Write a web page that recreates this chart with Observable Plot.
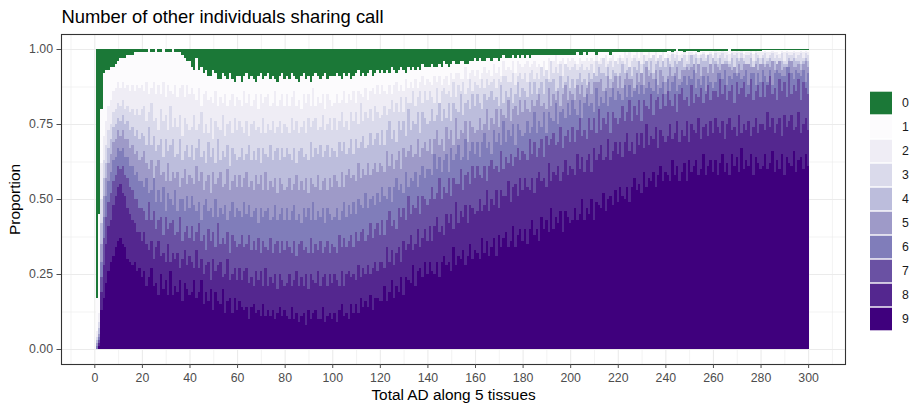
<!DOCTYPE html>
<html>
<head>
<meta charset="utf-8">
<script src="https://cdn.jsdelivr.net/npm/d3@7"></script>
<script src="https://cdn.jsdelivr.net/npm/@observablehq/plot@0.6"></script>
<style>
  body { margin: 0; background: #fff; }
  #chart { position: relative; width: 911px; height: 403px; font-family: "Liberation Sans", Arial, sans-serif; }
  #chart > svg { position: absolute; }
</style>
</head>
<body>
<div id="chart"></div>
<script>
// Number of other individuals sharing a call: categories 0..9
const categories = ["0", "1", "2", "3", "4", "5", "6", "7", "8", "9"];
const palette = ["#1b7837", "#fcfbfd", "#efedf5", "#dadaeb", "#bcbddc", "#9e9ac8", "#807dba", "#6a51a3", "#54278f", "#3f007d"];

// Axis ticks
const xTicks = [0, 20, 40, 60, 80, 100, 120, 140, 160, 180, 200, 220, 240, 260, 280, 300];
const xMinor = [-10, 10, 30, 50, 70, 90, 110, 130, 150, 170, 190, 210, 230, 250, 270, 290, 310];
const yTicks = [0, 0.25, 0.5, 0.75, 1];
const yMinor = [0.125, 0.375, 0.625, 0.875];

// Percent of calls shared by at least k other individuals, for total AD = 1..300
const atLeast9 = [
  0,1,13,17,22,26,29,31,34,36,37,35,34,30,29,28,29,26,27,24,
  26,21,24,27,21,22,18,25,20,23,18,26,18,21,19,23,16,22,20,18,
  19,23,17,19,23,15,19,16,20,13,19,16,15,20,12,16,17,12,17,13,
  16,14,13,14,10,14,15,12,13,11,15,11,13,11,13,10,12,14,11,13,
  11,10,14,10,12,9,11,12,8,13,10,12,13,10,10,14,9,11,12,10,
  12,9,13,15,11,12,10,15,12,15,12,17,14,16,14,18,13,17,17,16,
  16,21,16,19,23,17,21,19,24,18,24,23,22,28,21,26,27,24,29,25,
  29,26,25,29,24,29,31,28,29,26,34,28,31,30,33,28,31,35,30,33,
  32,30,37,32,36,31,34,37,31,38,34,37,39,34,36,41,34,38,40,36,
  40,35,40,43,38,40,36,44,40,43,39,47,40,44,42,46,39,46,44,42,
  43,47,43,45,50,43,47,45,50,43,49,48,47,52,46,50,51,48,53,49,
  54,51,50,54,49,54,57,53,55,52,59,54,57,56,59,54,58,61,56,59,
  58,56,63,58,61,56,59,62,56,63,59,61,63,58,60,65,58,61,63,59,
  63,58,62,65,59,62,58,65,61,64,59,67,60,63,61,65,58,64,62,60,
  61,65,60,62,66,59,63,60,65,58,64,62,61,66,59,63,64,60,65,61
];
const atLeast8 = [
  0,2,19,28,35,41,43,48,51,54,55,52,51,47,45,43,42,39,39,36,
  39,35,33,36,30,34,36,31,32,29,35,29,32,30,32,27,30,33,28,31,
  29,27,33,27,30,25,28,29,23,30,26,28,29,24,25,30,23,25,27,23,
  27,23,26,27,22,24,21,26,23,26,21,27,21,24,22,25,20,25,23,21,
  22,25,21,23,26,21,24,21,25,20,25,23,22,26,21,24,25,21,25,22,
  25,23,21,26,21,25,26,24,25,23,28,24,27,25,28,25,27,29,26,29,
  29,27,34,29,33,28,32,34,29,36,33,35,38,33,35,40,34,37,40,36,
  41,36,41,44,39,41,38,45,42,45,40,49,42,46,44,48,42,48,47,45,
  46,50,46,48,53,46,50,48,53,47,53,51,51,56,49,54,55,51,57,53,
  57,54,53,57,52,57,59,56,57,54,62,56,59,58,61,56,59,63,58,61,
  60,58,65,60,64,59,63,65,59,67,63,65,68,63,64,70,63,66,69,65,
  69,64,69,72,66,69,65,72,68,72,67,75,68,71,70,74,67,73,71,69,
  71,75,70,72,76,69,73,71,76,69,75,73,72,77,70,74,75,71,76,72,
  77,74,72,76,70,75,77,73,74,71,78,72,75,73,76,71,74,77,72,75,
  75,73,79,74,77,72,75,77,71,78,74,76,78,73,74,79,72,75,77,73
];
const atLeast7 = [
  0,3,24,37,44,49,52,56,58,61,60,61,58,57,54,53,50,50,47,47,
  46,43,49,43,46,40,43,44,38,44,40,42,43,38,39,44,36,39,41,37,
  41,36,39,42,36,38,33,40,36,39,34,42,35,37,35,39,32,38,36,34,
  35,38,34,35,38,33,36,33,37,32,36,34,33,37,32,35,36,32,36,33,
  36,34,32,36,31,35,36,33,34,32,37,32,35,33,36,32,34,36,32,35,
  34,32,38,34,37,34,36,38,34,39,36,39,40,36,38,42,37,40,42,38,
  43,38,43,46,41,43,40,47,44,47,43,51,45,48,47,51,45,51,50,48,
  50,54,50,52,57,50,54,52,57,51,57,55,55,60,53,58,59,55,61,57,
  61,58,57,61,56,61,63,60,61,59,66,60,64,62,65,61,64,67,63,66,
  65,63,70,65,69,64,67,70,64,71,68,70,72,68,69,74,67,71,73,69,
  74,69,73,77,71,73,70,77,73,77,72,80,73,77,75,79,72,79,77,75,
  77,81,76,79,83,76,81,78,83,76,83,81,80,85,78,83,84,80,85,81,
  86,83,81,85,79,85,87,83,84,81,88,82,85,84,87,82,85,88,83,86,
  86,84,90,85,88,83,86,88,82,89,85,87,89,84,85,90,83,86,88,84,
  89,84,88,91,85,87,83,90,86,89,84,92,85,88,86,90,83,89,87,85
];
const atLeast6 = [
  1,4,29,44,51,56,59,63,64,67,66,67,64,64,61,61,58,59,56,56,
  54,57,52,53,57,49,53,49,54,46,52,50,48,53,46,50,50,46,51,47,
  51,48,46,49,43,48,50,46,47,44,50,44,47,45,48,43,46,49,44,47,
  46,44,49,45,48,44,46,47,42,47,44,46,47,43,44,48,43,45,47,43,
  47,43,46,48,43,45,42,47,44,47,43,49,43,46,44,47,42,47,45,43,
  44,47,43,46,49,44,48,45,49,45,50,48,47,52,47,50,51,48,52,49,
  54,51,50,54,49,54,57,53,55,52,59,54,57,56,59,54,58,61,57,60,
  60,58,65,60,64,59,63,65,59,67,63,65,68,63,64,70,63,66,69,65,
  69,64,69,72,67,69,65,73,69,72,68,76,69,73,71,75,68,75,73,71,
  72,76,72,74,79,72,76,74,79,72,79,77,76,82,75,79,80,77,82,78,
  83,80,78,83,77,82,85,81,82,79,87,81,84,82,86,81,84,87,83,86,
  85,83,88,84,88,84,86,88,85,88,85,87,89,87,86,90,85,87,89,85,
  90,86,89,91,86,88,89,91,88,91,90,93,87,90,88,91,86,91,89,87,
  89,92,92,90,93,88,91,90,92,91,92,90,91,93,88,92,92,88,92,89,
  93,91,89,93,88,92,93,92,91,91,94,94,92,90,93,92,91,93,89,92
];
const atLeast5 = [
  2,5,35,51,57,62,65,69,70,73,71,73,70,70,67,68,65,66,63,64,
  66,62,60,63,57,61,63,58,59,56,62,56,59,57,59,54,57,60,55,58,
  57,55,61,56,59,53,56,58,52,59,55,57,59,54,55,60,53,56,58,54,
  58,54,57,59,54,56,53,58,55,58,53,59,53,56,54,57,52,57,55,53,
  54,57,53,55,58,53,56,53,57,52,57,55,54,58,53,56,57,53,57,54,
  58,56,54,59,54,58,60,57,58,56,62,57,60,58,62,58,60,62,59,62,
  61,59,66,61,65,60,63,66,60,67,64,66,68,64,65,70,64,67,69,66,
  70,65,70,73,68,70,66,74,70,73,68,77,70,73,72,76,69,76,74,72,
  73,77,73,75,80,73,77,75,80,74,80,78,77,83,76,80,81,78,83,79,
  83,80,79,83,81,83,85,81,82,80,87,81,85,83,86,81,85,88,83,86,
  85,83,88,85,88,84,87,89,85,89,89,89,90,86,87,91,87,89,91,87,
  91,87,90,92,90,90,87,92,89,92,88,94,91,92,90,93,88,93,91,89,
  91,94,91,92,94,90,93,93,94,93,94,95,92,95,91,94,94,92,95,92,
  95,94,93,95,95,95,94,93,94,92,95,93,95,95,95,94,94,95,93,95,
  95,94,95,94,96,93,95,96,93,94,94,96,96,94,94,95,93,95,96,94
];
const atLeast4 = [
  3,7,42,57,62,67,70,74,75,77,76,78,75,76,73,74,71,73,70,72,
  71,68,74,68,71,66,68,70,64,70,66,68,70,64,65,70,63,66,68,64,
  68,63,67,70,64,66,62,69,64,67,62,70,63,66,64,68,61,67,65,63,
  64,67,63,65,68,63,66,63,67,62,67,65,64,68,63,66,67,63,67,64,
  67,65,63,67,62,66,67,64,65,63,69,64,67,65,68,64,66,68,64,67,
  66,64,69,66,69,65,67,70,65,70,67,69,71,67,68,72,68,70,72,68,
  73,68,73,76,70,73,69,76,73,76,71,80,73,76,75,79,72,79,77,75,
  76,80,76,78,82,76,80,77,82,76,82,80,79,85,78,82,83,80,85,81,
  85,82,80,85,83,84,86,83,84,81,88,82,86,84,87,82,85,89,84,87,
  86,84,89,85,89,85,87,89,85,90,89,89,90,86,87,91,87,89,91,87,
  90,87,90,92,89,90,88,92,90,92,91,94,92,92,91,94,90,93,92,91,
  92,95,92,93,95,91,94,93,96,92,95,96,93,96,92,95,96,94,97,94,
  97,95,94,96,95,96,97,94,95,95,98,95,97,95,97,96,96,98,95,97,
  96,95,97,95,96,96,95,97,94,97,96,97,96,95,95,97,94,96,97,95,
  97,95,96,97,96,96,95,96,96,95,95,97,96,97,96,96,95,96,97,96
];
const atLeast3 = [
  4,9,50,63,68,73,75,79,80,82,81,83,80,81,79,80,78,80,78,80,
  81,76,79,82,76,77,73,80,76,78,73,81,74,77,74,78,71,77,75,73,
  74,78,73,75,79,72,75,72,77,70,76,74,73,78,71,75,76,72,77,73,
  76,74,72,76,71,75,76,73,74,72,77,72,75,73,76,72,74,76,72,75,
  74,72,77,73,76,72,74,76,72,77,74,76,77,73,74,78,73,75,77,73,
  77,73,76,79,74,76,73,79,76,79,75,82,76,79,77,80,76,81,79,77,
  78,81,78,80,83,79,82,79,84,79,84,82,82,86,81,84,86,82,86,83,
  86,84,82,87,82,86,87,85,86,84,89,84,88,86,89,85,87,90,86,89,
  88,87,90,87,90,88,89,90,87,90,89,91,91,89,89,92,88,91,92,90,
  92,89,92,93,90,92,90,94,91,93,90,96,92,94,92,95,91,95,94,93,
  94,95,93,94,95,93,94,93,95,92,96,95,95,97,94,95,96,94,96,95,
  97,96,95,97,94,96,97,96,96,95,98,96,97,97,98,96,97,98,96,97,
  97,96,98.5,97,98,96,97,98,96,98,98,98,98.5,97,98,98.5,97,98,98.5,97,
  98.8,97,98,98.8,97,98,96,98.8,98,98.8,97,98.8,97,98,98,98.8,96,98.8,98,97,
  98,98.8,97,98,98.8,97,98,97,98.8,96,98.8,98,98,98.8,97,98,98.8,97,98.8,98
];
const atLeast2 = [
  6,12,62,71,76,81,83,86,87,89,87,89,87,88,86,88,86,88,87,88,
  86,89,85,87,89,85,88,85,89,84,88,86,85,88,84,87,88,84,88,85,
  87,85,83,87,81,85,86,83,84,82,86,81,84,82,85,81,83,85,81,84,
  83,81,86,82,85,81,83,85,80,85,82,84,85,81,82,86,81,83,85,81,
  85,81,84,86,81,83,80,85,82,85,81,87,81,84,82,85,80,85,83,81,
  82,85,82,83,86,82,85,83,86,82,86,85,84,87,83,86,87,85,88,85,
  88,86,85,88,85,88,89,86,88,86,90,87,89,87,90,87,89,91,88,90,
  89,88,91,89,91,88,90,91,88,92,90,92,92,90,90,94,90,92,93,91,
  93,90,92,94,92,93,91,95,92,94,91,96,93,94,93,96,92,96,95,94,
  95,96,94,95,96,94,95,94,96,93,97,96,96,98,95,96,97,95,97,96,
  97,96,95,97,96,96,97,96,97,96,98,96,97,97,98,96,97,98,96,97,
  98,97,99,98,99,97,98,99,97,99,98,98,99,97,98,99,97,98,99,97,
  98.5,98,99,98.5,99,98,98.5,99,98,99,99,98.5,99,98,98.5,99,98,98.5,99,98,
  99.3,99,99,99.3,99,99,98.5,99.3,99,99.3,99,99.3,98.5,99,99,99.3,98.5,99.3,99,99,
  99,99.3,99,99,99.3,99,99,98.5,99.3,99,99.3,99,99,99.3,99,99,99.3,99,99.3,99
];
const atLeast1 = [
  17,45,80,92,93,93,94,94,95,96,97,97,97,98,98,98,99,99,99,99,
  99,99,100,99,99,100,99,99,100,99,99,99,100,99,99,99,98,97,96,96,
  94,93,97,93,94,92,93,91,91,93,92,90,90,92,91,90,92,90,89,91,
  91,89,91,92,90,91,90,89,91,92,90,91,92,90,91,90,89,91,92,90,
  91,90,92,91,90,89,91,92,90,91,89,91,92,91,90,91,92,90,91,91,
  91,92,91,90,92,91,92,90,91,92,93,91,92,91,92,93,91,92,93,92,
  93,92,93,92,94,93,92,93,94,93,92,94,93,94,93,94,93,95,94,94,
  94,95,94,94,95,94,96,95,94,95,96,95,95,96,96,95,95,96,96,97,
  96,97,96,96,97,97,96,97,97,96,97,98,97,97,97,98,97,98,97,98,
  97,98,97,98,98,98,98,98,98,98,98,98,98,98,98,98,98,98,98,98,
  98,98,99,98,98,99,98,99,99,99,98,99,99,99,99,99,98,99,99,99,
  99,99,99,99,99,99,99,99,99,99,99,99,99,99,99,99,99,99,99,99,
  99.5,99.5,99,99.5,100,99.5,99.5,99,99.5,99.5,99.5,99.5,99.5,99,99.5,99.5,99.5,99.5,99.5,99.5,
  99.5,99.5,99.5,99.5,99.5,99.5,100,99.5,99.5,99.5,99.5,99.5,99.5,99.5,99.5,99.5,99.5,99.5,99.5,99.5,
  99.7,99.7,99.7,99.7,99.7,99.7,99.7,99.7,99.7,99.7,99.7,99.7,99.7,99.7,99.7,99.7,99.7,99.7,99.7,99.7
];

// Stack segments: category k sits between "at least k+1" and "at least k"
const levels = [atLeast1, atLeast2, atLeast3, atLeast4, atLeast5, atLeast6, atLeast7, atLeast8, atLeast9];
const segments = [];
atLeast1.forEach((_, i) => {
  const ad = i + 1;
  let upper = 100;
  categories.forEach((cat, k) => {
    const lower = k < 9 ? Math.min(upper, levels[k][i]) : 0;
    segments.push({ad, cat, lower: lower / 100, upper: upper / 100});
    upper = lower;
  });
});

const font = "Liberation Sans, Arial, sans-serif";

const chart = Plot.plot({
  width: 911,
  height: 403,
  marginLeft: 61,
  marginRight: 66,
  marginTop: 34,
  marginBottom: 39,
  x: {domain: [-14, 315.5]},
  y: {domain: [-0.05, 1.05]},
  color: {domain: categories, range: palette},
  style: {fontFamily: font, background: "transparent", overflow: "visible"},
  marks: [
    Plot.gridX({ticks: xMinor, stroke: "#ebebeb", strokeOpacity: 1, strokeWidth: 0.6}),
    Plot.gridY({ticks: yMinor, stroke: "#ebebeb", strokeOpacity: 1, strokeWidth: 0.6}),
    Plot.gridX({ticks: xTicks, stroke: "#ebebeb", strokeOpacity: 1, strokeWidth: 1.1}),
    Plot.gridY({ticks: yTicks, stroke: "#ebebeb", strokeOpacity: 1, strokeWidth: 1.1}),
    Plot.rect(segments, {
      x1: d => d.ad - 0.5,
      x2: d => d.ad + 0.5,
      y1: "lower",
      y2: "upper",
      fill: "cat",
      shapeRendering: "crispEdges"
    }),
    Plot.frame({stroke: "#333333", strokeWidth: 1.1}),
    Plot.axisX({ticks: xTicks, tickSize: 4, tickPadding: 5, fontSize: 12.3, color: "#4d4d4d", label: null, tickFormat: d => String(d)}),
    Plot.axisY({ticks: yTicks, tickSize: 4.5, tickPadding: 4, fontSize: 12.3, color: "#4d4d4d", label: null, tickFormat: d => d.toFixed(2)}),
    Plot.text(["Number of other individuals sharing call"], {
      frameAnchor: "top-left", textAnchor: "start", lineAnchor: "bottom",
      dy: -11.5, fontSize: 18.4, fill: "#000"
    }),
    Plot.text(["Total AD along 5 tissues"], {
      frameAnchor: "bottom", textAnchor: "middle", lineAnchor: "bottom",
      dy: 35, fontSize: 15.4, fill: "#000"
    }),
    Plot.text(["Proportion"], {
      frameAnchor: "left", textAnchor: "middle", lineAnchor: "bottom",
      rotate: -90, dx: -41.5, fontSize: 15.4, fill: "#000"
    })
  ]
});
chart.style.left = "0px";
chart.style.top = "0px";

// Legend keys
const legend = Plot.plot({
  width: 51,
  height: 260,
  margin: 0,
  x: {type: "band", domain: ["key"], range: [10, 32.7], padding: 0, axis: null},
  y: {type: "band", domain: categories, range: [9, 253], padding: 0, axis: null},
  color: {domain: categories, range: palette},
  style: {fontFamily: font, background: "transparent", overflow: "visible"},
  marks: [
    Plot.cell(categories, {x: () => "key", y: d => d, fill: d => d, insetTop: 0.7, insetBottom: 0.7}),
    Plot.text(categories, {x: () => "key", y: d => d, text: d => d, dx: 20.4, textAnchor: "start", fontSize: 12.3, fill: "#1a1a1a"})
  ]
});
legend.style.left = "860px";
legend.style.top = "80px";

const root = document.getElementById("chart");
root.appendChild(chart);
root.appendChild(legend);
</script>
</body>
</html>
